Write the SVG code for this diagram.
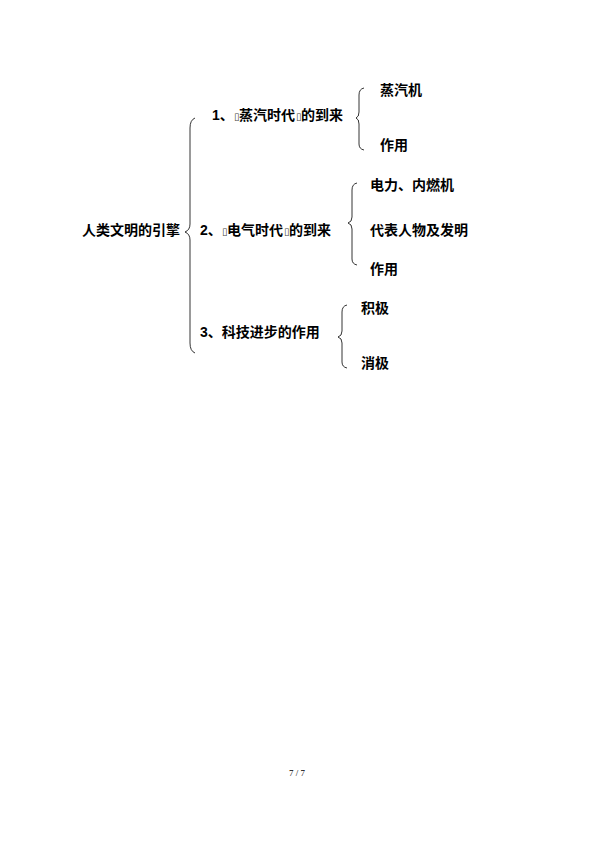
<svg xmlns="http://www.w3.org/2000/svg" width="595" height="841" viewBox="0 0 595 841">
<style>
.t{font-family:"Liberation Sans","Noto Sans CJK SC",sans-serif;font-size:14px;font-weight:bold;fill:#000}
.b{font-family:"DejaVu Sans",sans-serif;font-size:10px;font-weight:normal;fill:#444}
.br{fill:none;stroke:#000;stroke-width:0.8}
.pg{font-family:"Liberation Serif",serif;font-size:9px;fill:#000}
</style>
<rect width="595" height="841" fill="#fff"/>
<g id="connectors">
<path class="br" d="M195,118 Q190,120 190,128 L190,224 Q190,230 185,232 Q190,234 190,240 L190,343 Q190,351 195,353"/>
<path class="br" d="M364,88 Q359,89 359,95 L359,112 Q359,117 356,118 Q359,119 359,124 L359,144 Q359,149 364,150"/>
<path class="br" d="M357,183 Q352,184 352,190 L352,217 Q352,222 348,223 Q352,224 352,229 L352,259 Q352,264 357,265"/>
<path class="br" d="M347,305 Q342,306 342,312 L342,331 Q342,336 338,337 Q342,338 342,343 L342,362 Q342,367 347,368"/>
</g>
<g id="root"><text class="t" x="82" y="235">人类文明的引擎</text></g>
<g id="n1"><text class="t" x="212" y="120">1、<tspan class="b" x="234">▯</tspan><tspan x="239">蒸汽时代</tspan><tspan class="b" x="296">▯</tspan><tspan x="301">的到来</tspan></text></g>
<g id="n1a"><text class="t" x="380" y="95">蒸汽机</text></g>
<g id="n1b"><text class="t" x="380" y="150">作用</text></g>
<g id="n2"><text class="t" x="200" y="235">2、<tspan class="b" x="222">▯</tspan><tspan x="227">电气时代</tspan><tspan class="b" x="284">▯</tspan><tspan x="289">的到来</tspan></text></g>
<g id="n2a"><text class="t" x="370" y="190">电力、内燃机</text></g>
<g id="n2b"><text class="t" x="370" y="235">代表人物及发明</text></g>
<g id="n2c"><text class="t" x="370" y="274">作用</text></g>
<g id="n3"><text class="t" x="200" y="337">3、科技进步的作用</text></g>
<g id="n3a"><text class="t" x="361" y="313">积极</text></g>
<g id="n3b"><text class="t" x="361" y="368">消极</text></g>
<text class="pg" x="297" y="776" text-anchor="middle">7 / 7</text>
</svg>
